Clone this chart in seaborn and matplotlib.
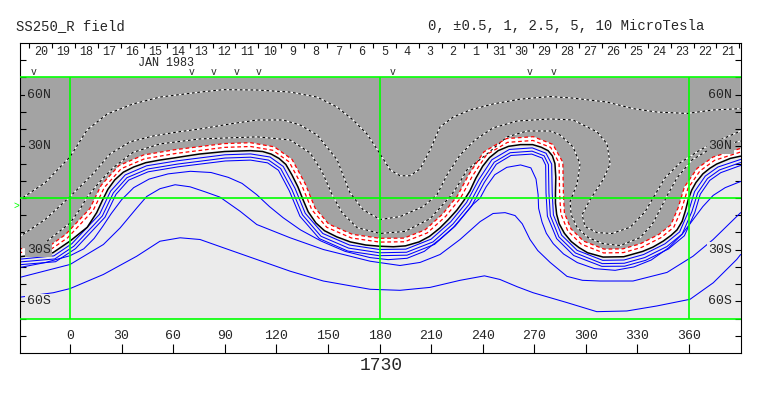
import matplotlib
matplotlib.use("Agg")
import matplotlib.pyplot as plt
import seaborn as sns

# contour traces (longitude deg, latitude deg)
neutral_lon = [-30, -10, 0, 10, 15.5, 19, 22, 26, 31, 37, 44, 52, 62, 75, 90, 105, 112, 117, 121.5, 125.5,
               129, 132.5, 135.5, 138.5, 143, 148, 155, 163, 172, 180, 188, 195, 203, 209, 215, 220, 225, 229, 232.5, 236,
               240, 244, 249, 255, 262, 269, 274, 278, 280.5, 282, 282.5, 282.3, 282.3, 283, 284.5, 287.5, 291.5, 296, 301, 310,
               322, 333, 339, 345, 349.5, 353, 356, 358, 359.5, 361.5, 364, 368, 372, 376, 384, 390]
neutral_lat = [-34.2, -31.8, -25, -17, -8.5, -1, 5, 10.5, 15, 18, 20.5, 22, 23.5, 25.5, 27, 27.5, 27, 25.5, 23, 19.5,
               13.5, 6.5, -1, -8, -14.5, -19, -22.5, -25.5, -27.3, -28, -28.3, -27.8, -25.5, -22.3, -17.5, -12.5, -7, -1.5, 4, 11.5,
               18.5, 23.5, 27.5, 30, 31, 31, 29.5, 27.5, 24.5, 20, 12, 3, -3, -9.5, -15, -20.5, -25.3, -28.8, -31.8, -34.3,
               -34.1, -31, -28.5, -25, -21.7, -18.5, -13.5, -7, -1, 4.5, 9, 14, 17.2, 19.7, 23, 24.3]

# negative side, red dashed
neg1_lon = [-30, -10.7, -1.4, 13.4, 20.0, 29.7, 43.4, 61.7, 89.9, 105, 117.9, 127.4, 134.7, 140.6, 149.3, 163.6, 180.1,
            194.6, 207.7, 218.3, 227.0, 233.9, 242.3, 254.4, 269.2, 279.5, 284.4, 284.7, 285.4, 289.5, 297.3, 310.3, 321.8,
            332.3, 343.7, 351.1, 355.7, 359.3, 366.3, 374.9, 390]
neg1_lat = [-31.8, -29.5, -23.1, -7.3, 6.2, 17.0, 22.8, 25.9, 29.4, 29.9, 27.7, 21.0, 7.5, -6.8, -17.0, -23.2, -25.6,
            -25.4, -20.3, -10.8, -0.2, 12.6, 25.2, 32.3, 33.4, 29.4, 20.4, 3, -9.1, -19.2, -26.8, -31.9, -31.7,
            -28.7, -23.0, -17.0, -6.4, 5.5, 15.7, 21.9, 26.7]
neg2_lon = [-30, -11.4, -2.7, 11.5, 18.1, 28.4, 42.8, 61.4, 89.8, 105, 118.8, 129.1, 136.7, 142.5, 150.5, 164.2, 180.1,
            194.2, 206.5, 216.7, 225.2, 231.9, 240.7, 253.8, 269.4, 280.8, 286.6, 286.9, 287.5, 291.3, 298.6, 310.6, 321.6,
            331.6, 342.5, 349.4, 353.6, 357.3, 364.7, 374.0, 390]
neg2_lat = [-29.6, -27.4, -21.3, -6.2, 7.4, 18.8, 25.0, 28.1, 31.6, 32.1, 29.7, 22.4, 8.4, -5.8, -15.2, -21.1, -23.4,
            -23.3, -18.5, -9.3, 1.1, 13.6, 26.8, 34.5, 35.6, 31.1, 20.7, 3, -8.7, -17.9, -25.0, -29.7, -29.5,
            -26.6, -21.1, -15.6, -5.8, 6.4, 17.2, 23.8, 28.8]

# negative side, dotted
neg3_lon = [-13.4, 0, 5.8, 9.9, 17.4, 25, 36.6, 52.3, 75.6, 108.8, 128, 139.6, 146.6, 152.4, 158.2, 166.9, 180.3,
            194.8, 209.4, 221, 225.1, 230.9, 242.5, 254.2, 265.8, 279.2, 285, 292.5, 296.6, 294.9, 290.8, 291.4, 294.9,
            301.3, 310, 319.9, 331.5, 338.5, 343.1, 347.2, 353, 361.7, 373.3, 390]
neg3_lat = [-25.1, -14.5, -6.5, 0.5, 9.5, 17.5, 26.5, 31.4, 34.3, 35.5, 33.7, 26.2, 15.2, 1.9, -8.5, -17.2, -20.6,
            -19.4, -12, 0.8, 6.5, 16.4, 25.6, 35.5, 38.9, 38.9, 36.6, 29.7, 19.8, 8.3, -2.1, -9.7, -17.2,
            -23, -26.5, -27.6, -23, -15.4, -6.8, 1.3, 11.7, 22.1, 29.1, 33.1]
neg4_lon = [-30, -14.5, 0, 13.4, 23.3, 34.9, 48.3, 62.2, 75.6, 93.1, 108.8, 123.9, 133.8, 143.7, 155.3, 162.8, 170.4,
            180.3, 191.9, 205.3, 213.4, 219.3, 226.8, 235.5, 246, 260, 279.2, 292.5, 306.5, 312.3, 314.1, 310, 302.4,
            297.8, 299.5, 306.5, 315.2, 325.7, 334.4, 340.2, 346, 354.7, 366.4, 378, 390]
neg4_lat = [-22.9, -12.5, 0.8, 14.1, 25.6, 32.6, 36, 38.3, 40.1, 43, 45.3, 45.3, 42.4, 36.6, 22.2, 3.1, -6.8,
            -12.5, -10.8, -5, 1.9, 13.5, 25, 33.7, 40.7, 44.7, 45.9, 45.3, 38.4, 31.4, 19.8, 10.6, -1,
            -9.7, -16.6, -20.1, -20.6, -17, -8, 1.9, 11.7, 20.4, 27.9, 33.7, 38.9]
neg5_lon = [-30, -14.5, 0, 9.9, 21.5, 36.6, 52.3, 75.6, 89, 108.8, 128, 143.7, 155.3, 164.6, 172.7, 180.3, 186.1,
            191.9, 197.7, 203.6, 209.4, 215.2, 222.8, 232.6, 246, 261.7, 279.2, 292.5, 312.3, 327.4, 341.4, 358.8, 374, 390]
neg5_lat = [-1.5, 8.9, 23.9, 39.5, 48.7, 54.6, 58.6, 61.5, 62.9, 62.7, 61.5, 58.6, 52.8, 45.3, 37.2, 25.6, 16.4,
            12.9, 12.9, 16.9, 27.9, 41.3, 47, 51.1, 54.6, 57.4, 58.9, 58, 55.7, 51.9, 49.9, 49.1, 51.1, 51.9]

# positive side, blue
pos1_lon = [-30, -9.4, 1.1, 17.2, 23.6, 32.1, 44.5, 62.3, 90.1, 105, 116.3, 124.0, 130.8, 136.8, 147.0, 162.5, 179.9,
            195.3, 210.0, 221.4, 230.6, 237.7, 245.3, 255.5, 268.8, 276.8, 280.1, 280.4, 281.1, 285.9, 294.9, 309.8, 322.2,
            333.6, 346.0, 354.5, 359.8, 363.2, 369.4, 376.8, 390]
pos1_lat = [-35.6, -33.6, -26.5, -9.4, 4.0, 13.4, 18.7, 21.6, 25.1, 25.6, 23.8, 18.3, 5.7, -8.9, -20.6, -27.3, -29.9,
            -29.7, -23.9, -13.8, -2.6, 10.6, 22.2, 28.2, 29.1, 26.0, 19.7, 3, -9.8, -21.6, -30.4, -36.2, -36.0,
            -32.8, -26.6, -19.7, -7.5, 3.7, 12.7, 18.0, 22.4]
pos2_lon = [-30, -8.9, 2.2, 18.8, 25.2, 33.1, 45.0, 62.5, 90.2, 105, 115.5, 122.5, 129.0, 135.2, 145.9, 162.0, 179.9,
            195.7, 211.1, 222.7, 232.2, 239.4, 246.7, 256.0, 268.7, 275.7, 278.2, 278.5, 279.3, 284.3, 293.9, 309.5, 322.3,
            334.2, 347.1, 356.0, 361.6, 365.0, 370.7, 377.7, 390]
pos2_lat = [-37.2, -35.4, -28.0, -10.4, 3.0, 11.8, 16.8, 19.7, 23.2, 23.7, 22.0, 17.1, 4.9, -9.8, -22.2, -29.1, -31.8,
            -31.5, -25.5, -15.1, -3.6, 9.8, 20.8, 26.3, 27.2, 24.5, 19.4, 3, -10.2, -22.6, -31.9, -38.1, -37.9,
            -34.6, -28.2, -20.9, -8.0, 2.9, 11.3, 16.3, 20.6]
pos3_lon = [-30, -8.4, 3.2, 20.3, 26.7, 34.1, 45.4, 62.8, 90.3, 105, 114.9, 121.2, 127.5, 133.7, 145, 161.5, 179.8,
            196, 212, 224, 233.6, 240.9, 247.9, 256.4, 268.5, 274.6, 276.6, 276.8, 277.6, 283, 292.9, 309.3, 322.5,
            334.7, 348, 357.3, 363.3, 366.5, 372, 378.4, 390]
pos3_lat = [-38.8, -37.0, -29.4, -11.2, 2.1, 10.4, 15.2, 18.1, 21.5, 22, 20.4, 16.1, 4.2, -10.6, -23.6, -30.8, -33.5,
            -33.2, -26.9, -16.3, -4.6, 9, 19.6, 24.7, 25.5, 23.2, 19.1, 3, -10.5, -23.6, -33.4, -39.7, -39.6,
            -36.2, -29.6, -21.9, -8.5, 2.2, 10.2, 14.7, 18.9]
pos4_lon = [-30, -14.5, 0, 8, 14, 19, 24, 30, 37, 46, 57, 70, 82, 92, 100, 108.5, 116, 124, 134, 146, 160, 174.5, 185,
            196, 206, 215, 223, 229, 234, 238.5, 242, 247, 254, 262, 268, 271, 272.2, 272.5, 274.5, 277, 281, 287, 295,
            305, 317, 328, 338, 348, 356, 362, 368, 374, 381, 390]
pos4_lat = [-40.5, -37.5, -33.5, -29.5, -23.5, -16.5, -9, -1, 6, 11, 14, 15.5, 14.8, 12, 8.5, 2, -5, -11.5, -18.5, -25,
            -31, -34.6, -35.8, -35, -31, -24, -17, -10, -4, 0, 6.5, 13.5, 17.8, 19.2, 17.5, 11, 2, -6, -14, -20.5, -26.5,
            -32.5, -37.5, -41, -42, -40, -36, -29, -21, -13, -5, 1.5, 6, 9.6]
pos5_lon = [-30, 0, 19.4, 29.1, 38.8, 44.6, 52.3, 61.1, 69.8, 78.5, 87.2, 98.9, 108.6, 128, 147.3, 174.5, 191.9, 203.6,
            215.2, 226.8, 238.5, 246, 253, 258.8, 263, 267.5, 272, 279.2, 289, 298, 308.2, 327.4, 347.2, 362.3, 374, 390]
pos5_lat = [-46.3, -38.6, -27, -17.4, -5.8, 0.9, 5.4, 7.7, 6.5, 3.6, 0.5, -7.7, -15.4, -23.1, -29.9, -36.7, -39.2, -37.4,
            -32.8, -24.1, -13.7, -9, -8.5, -10.2, -15, -24.1, -30.5, -37.4, -45.5, -47.8, -48.2, -48.2, -43.2, -33.8, -24.1, -8.5]
pos6_lon = [-30, -9.7, 0, 19.4, 38.8, 52.3, 64, 75.6, 89.2, 108.6, 128, 147.3, 174.5, 191.9, 209.4, 226.8, 241, 250,
            260, 269.3, 288.9, 306.3, 323.8, 341.2, 360.6, 374.1, 387.7, 390]
pos6_lat = [-57.7, -55, -52.6, -44.4, -33.8, -25.1, -23.1, -24.1, -28.9, -35.7, -42.5, -48.2, -53, -53.6, -51.9, -47.8,
            -45.2, -47.3, -51.5, -55, -60.7, -66, -65.6, -62.7, -58.8, -49.2, -35.7, -32.8]

lon_ticks = list(range(0, 361, 30))
lat_ticks = list(range(-80, 81, 10))
lat_label_vals = [60, 30, -30, -60]
lat_label_txt = ["60N", "30N", "30S", "60S"]
day_labels = [20, 19, 18, 17, 16, 15, 14, 13, 12, 11, 10, 9, 8, 7, 6, 5, 4, 3, 2, 1,
              31, 30, 29, 28, 27, 26, 25, 24, 23, 22, 21]
day_start_lon = -23.7
day_width = 13.32
mark_lon = [-21.3, 70.8, 83.3, 97.0, 109.5, 187.6, 267.5, 281.1]

LON_MIN, LON_MAX, MAP_LAT = -30, 390, 70
DARK = "#a3a3a3"
LIGHT = "#ebebeb"
GREEN = "#00ff00"

sns.set_theme(style="white")
plt.rcParams["font.family"] = ["Liberation Mono", "DejaVu Sans"]

fig = plt.figure(figsize=(7.63, 3.96), dpi=100)
ax = fig.add_axes([20 / 763, 43 / 396, 721 / 763, 310 / 396])
ax.set_xlim(-29.1, 390.2)
ax.set_ylim(-90, 90)

# polarity shading
ax.fill_between([LON_MIN, LON_MAX], -MAP_LAT, MAP_LAT, color=LIGHT, lw=0, zorder=0)
ax.fill(neg2_lon + [LON_MAX, LON_MIN], neg2_lat + [MAP_LAT, MAP_LAT], color=DARK, lw=0, zorder=0.5)
ax.fill(neutral_lon + neg2_lon[::-1], neutral_lat + neg2_lat[::-1], color="white", lw=0, zorder=0.6)


def trace(lon, lat, **kw):
    sns.lineplot(x=lon, y=lat, sort=False, estimator=None, legend=False, ax=ax, **kw)


for lo, la in [(pos1_lon, pos1_lat), (pos2_lon, pos2_lat), (pos3_lon, pos3_lat),
               (pos4_lon, pos4_lat), (pos5_lon, pos5_lat), (pos6_lon, pos6_lat)]:
    trace(lo, la, color="#0000ff", lw=0.75, zorder=2)

for lo, la in [(neg3_lon, neg3_lat), (neg4_lon, neg4_lat), (neg5_lon, neg5_lat)]:
    trace(lo, la, color="white", lw=0.8, zorder=2)
    trace(lo, la, color="black", lw=0.8, linestyle=(0, (2.4, 2.4)), zorder=2.1)

for lo, la in [(neg1_lon, neg1_lat), (neg2_lon, neg2_lat)]:
    trace(lo, la, color="red", lw=0.9, linestyle=(0, (3, 2.2)), zorder=2.2)

trace(neutral_lon, neutral_lat, color="black", lw=1.1, zorder=2.3)

# reference grid
ax.hlines([-MAP_LAT, 0, MAP_LAT], LON_MIN, LON_MAX, color=GREEN, lw=1.2, zorder=4)
ax.vlines([0, 180, 360], -MAP_LAT, MAP_LAT, color=GREEN, lw=1.2, zorder=4)

# frame and ticks
for s in ax.spines.values():
    s.set_color("black")
    s.set_linewidth(0.8)
ax.set_xticks(lon_ticks)
ax.set_yticks(lat_ticks)
ax.tick_params(axis="x", bottom=True, top=False, direction="in", length=6.5, width=0.8,
               color="black", labelbottom=False)
ax.tick_params(axis="y", left=True, right=True, direction="in", length=4.3, width=0.8,
               color="black", labelleft=False)
ax.grid(False)

day_bounds = [day_start_lon + i * day_width for i in range(len(day_labels) + 1)]
top = ax.secondary_xaxis("top")
top.set_xticks(day_bounds)
top.tick_params(direction="in", length=3.5, width=0.8, color="black", labeltop=False)
top.spines["top"].set_visible(False)

for lon in lon_ticks:
    ax.text(lon, -80.2, str(lon), ha="center", va="center", fontsize=9.5, zorder=5)

left_bg = [DARK, DARK, DARK, LIGHT]
right_bg = [DARK, DARK, LIGHT, LIGHT]
for lat, txt, lb, rb in zip(lat_label_vals, lat_label_txt, left_bg, right_bg):
    ax.text(-25.2, lat, txt, ha="left", va="center", fontsize=9.5, zorder=5,
            bbox=dict(boxstyle="square,pad=0.12", fc=lb, ec="none"))
    ax.text(385.2, lat, txt, ha="right", va="center", fontsize=9.5, zorder=5,
            bbox=dict(boxstyle="square,pad=0.12", fc=rb, ec="none"))

for i, d in enumerate(day_labels):
    ax.text(day_start_lon + (i + 0.5) * day_width, 85.0, str(d), ha="center", va="center", fontsize=8.5)
ax.text(55.8, 78.6, "JAN 1983", ha="center", va="center", fontsize=8.5)
for lon in mark_lon:
    ax.text(lon, 72.9, "v", ha="center", va="center", fontsize=7)
ax.text(-31.1, -4.8, ">", ha="center", va="center", fontsize=7, color=GREEN, clip_on=False)

fig.text(16 / 763, 1 - 26 / 396, "SS250_R field", ha="left", va="center", fontsize=10)
fig.text(428 / 763, 1 - 26 / 396, "0, \u00b10.5, 1, 2.5, 5, 10 MicroTesla", ha="left", va="center", fontsize=10)
fig.text(381 / 763, 1 - 366 / 396, "1730", ha="center", va="center", fontsize=13)

fig.savefig("out.png", dpi=100, facecolor="white")
